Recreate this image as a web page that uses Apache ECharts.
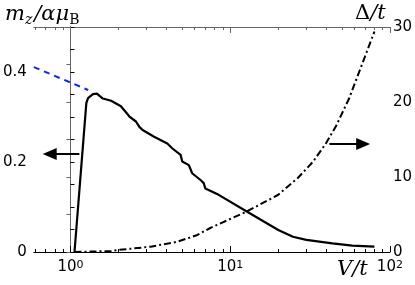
<!DOCTYPE html>
<html><head><meta charset="utf-8">
<script src="https://cdn.jsdelivr.net/npm/echarts@6/dist/echarts.min.js"></script>
<style>html,body{margin:0;padding:0;background:#fff}#c{width:415px;height:285px}</style>
</head><body><div id="c"></div>
<script>
// magnetization m_z / (alpha mu_B) vs V/t (solid)
const V_m = [1.06, 1.257, 1.288, 1.383, 1.465, 1.521, 1.596, 1.797, 2.07, 2.34, 2.57, 2.70, 2.83, 3.34, 4.04, 4.35, 4.89, 5.01, 5.51, 5.78, 6.52, 6.83, 6.99, 8.47, 12.7, 20, 24.7, 30, 43.6, 58.2, 80];
const m_z = [0, 0.331, 0.342, 0.351, 0.352, 0.347, 0.341, 0.336, 0.324, 0.301, 0.29, 0.278, 0.271, 0.256, 0.241, 0.23, 0.216, 0.201, 0.193, 0.175, 0.16, 0.153, 0.141, 0.127, 0.09, 0.049, 0.034, 0.027, 0.019, 0.014, 0.012];
// extrapolation (blue dashed)
const V_ext = [0.59, 1.29];
const m_ext = [0.411, 0.36];
// gap Delta/t (dash-dot, right axis)
const V_gap = [1.06, 1.80, 1.99, 3.18, 4.68, 6.23, 7.5, 12.7, 19.9, 26.5, 32.9, 39.8, 46, 55.6, 80];
const gap = [0, 0.13, 0.27, 0.71, 1.37, 2.27, 3.2, 5.4, 7.6, 9.87, 12.0, 14.5, 16.8, 20.5, 29.4];
// ticks / labels
const xMajor = [1, 10, 100];
const xMinor = [0.6,0.7,0.8,0.9,2,3,4,5,6,7,8,9,20,30,40,50,60,70,80,90];
const leftLabels = [0, 0.2, 0.4];
const rightLabels = [0, 10, 20, 30];
// annotation arrows (data coordinates)
const arrowLeftV = [1.137, 0.741], arrowLeftY = 0.218;
const arrowRightV = [41.8, 68], arrowRightY = 14.4;

const L = Math.log10;
const pair = (xs, ys) => xs.map((x, i) => [L(x), ys[i]]);
const X_MIN = L(0.59), X_MAX = 2;
const lab = {fontFamily: 'DejaVu Sans', fontSize: 15, color: '#000'};
const SERIF = 'DejaVu Serif';

function xAx(pos, major, withLine, withLabels) {
  const vals = (major ? xMajor : xMinor).map(L);
  return {
    type: 'value', position: pos, min: X_MIN, max: X_MAX, gridIndex: 0,
    splitLine: {show: false},
    axisLine: {show: withLine, lineStyle: {color: pos === 'top' ? '#666' : '#000', width: 1}},
    axisTick: {show: true, inside: true, length: major ? 6 : 3, customValues: vals,
      lineStyle: {color: pos === 'top' ? '#666' : '#000', width: 1}},
    axisLabel: withLabels ? {
      show: true, customValues: xMajor.map(L), margin: 8,
      formatter: v => '{b|10}{s|' + Math.round(v) + '}',
      rich: {b: Object.assign({}, lab, {verticalAlign: 'bottom'}),
             s: Object.assign({}, lab, {fontSize: 11, verticalAlign: 'top'})}
    } : {show: false}
  };
}

const chart = echarts.init(document.getElementById('c'), null, {renderer: 'canvas'});
chart.setOption({
  animation: false,
  backgroundColor: '#fff',
  grid: {left: 32, right: 24, top: 27, bottom: 33, containLabel: false},
  xAxis: [xAx('bottom', true, true, true), xAx('bottom', false, false, false),
          xAx('top', true, true, false), xAx('top', false, false, false)],
  yAxis: [
    {type: 'value', position: 'left', min: 0, max: 0.5, interval: 0.05,
     splitLine: {show: false},
     axisLine: {show: true, lineStyle: {color: '#000'}},
     axisTick: {show: true, inside: true, length: 4, lineStyle: {color: '#000'}},
     axisLabel: Object.assign({customValues: leftLabels, margin: 7, formatter: v => String(Math.round(v * 10) / 10)}, lab)},
    {type: 'value', position: 'right', min: 0, max: 30, interval: 5,
     splitLine: {show: false},
     axisLine: {show: true, lineStyle: {color: '#666'}},
     axisTick: {show: true, inside: true, length: 4, lineStyle: {color: '#666'}},
     axisLabel: Object.assign({customValues: rightLabels, margin: 3}, lab)}
  ],
  series: [
    {type: 'line', xAxisIndex: 0, yAxisIndex: 0, data: pair(V_ext, m_ext), showSymbol: false,
     lineStyle: {color: '#0a28f0', width: 2, type: [6, 5]}},
    {type: 'line', xAxisIndex: 0, yAxisIndex: 1, data: pair(V_gap, gap), showSymbol: false,
     lineStyle: {color: '#000', width: 2, type: [7, 3, 2, 3]},
     markLine: {silent: true, symbol: ['none', 'triangle'], symbolSize: [12, 14],
       lineStyle: {color: '#000', width: 2, type: 'solid'}, label: {show: false},
       data: [[{coord: [L(arrowRightV[0]), arrowRightY]}, {coord: [L(arrowRightV[1]), arrowRightY]}]]}},
    {type: 'line', xAxisIndex: 0, yAxisIndex: 0, data: pair(V_m, m_z), showSymbol: false,
     lineStyle: {color: '#000', width: 2.2},
     markLine: {silent: true, symbol: ['none', 'triangle'], symbolSize: [12, 14],
       lineStyle: {color: '#000', width: 2, type: 'solid'}, label: {show: false},
       data: [[{coord: [L(arrowLeftV[0]), arrowLeftY]}, {coord: [L(arrowLeftV[1]), arrowLeftY]}]]}}
  ],
  graphic: [
    {type: 'text', left: 5, top: 4, style: {
      text: '{i|m}{z|z}{i|/αμ}{b|B}',
      rich: {
        i: {fontFamily: SERIF, fontStyle: 'italic', fontSize: 21, fill: '#000', verticalAlign: 'top', lineHeight: 23},
        z: {fontFamily: SERIF, fontStyle: 'italic', fontSize: 14, fill: '#000', verticalAlign: 'bottom', padding: [0, 2, 0, 0]},
        b: {fontFamily: SERIF, fontSize: 14, fill: '#000', verticalAlign: 'bottom'}
      }}},
    {type: 'text', left: 355, top: 3, style: {
      text: '{r|Δ}{i|/t}',
      rich: {
        r: {fontFamily: SERIF, fontSize: 21, fill: '#000'},
        i: {fontFamily: SERIF, fontStyle: 'italic', fontSize: 21, fill: '#000'}
      }}},
    {type: 'text', left: 337, top: 259, style: {
      text: 'V/t', fontFamily: SERIF, fontStyle: 'italic', fontSize: 21, fill: '#000'}}
  ]
});
</script></body></html>
